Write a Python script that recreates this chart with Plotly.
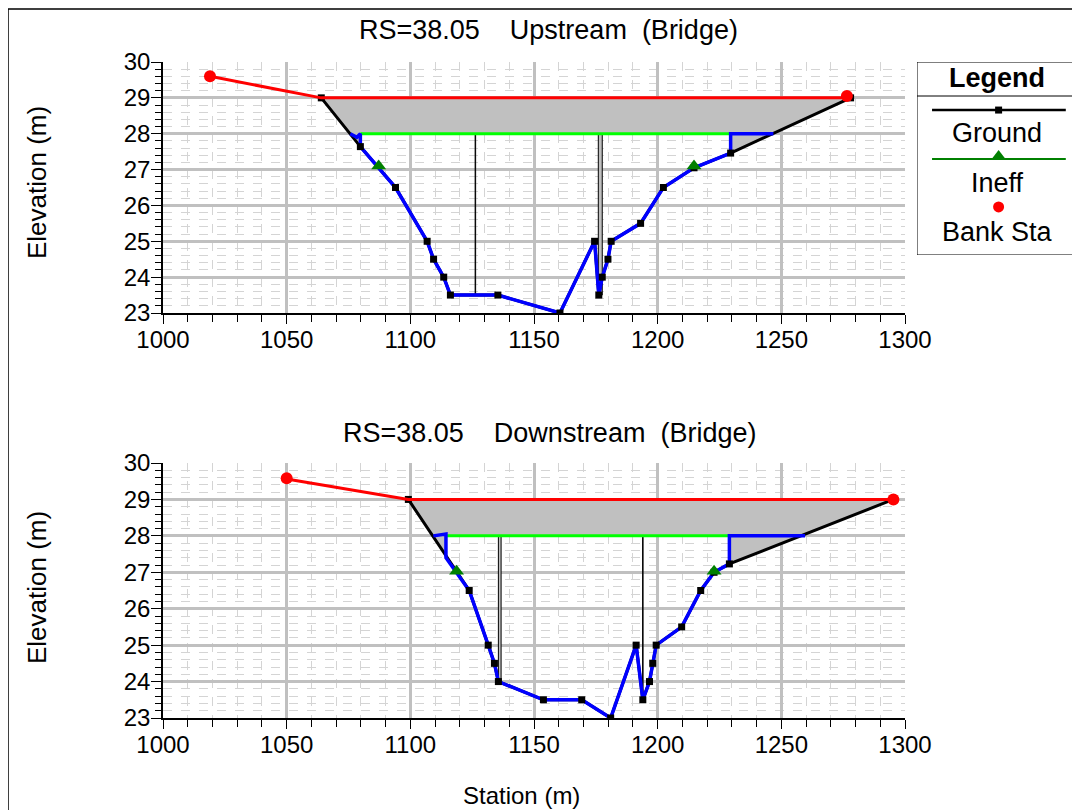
import plotly.graph_objects as go

# ---------------- data ----------------
# Upstream (Bridge) section
us_ground_sta = [1064.0, 1079.8, 1094.0, 1106.8, 1109.4, 1113.5, 1116.2, 1135.4, 1160.5, 1174.5, 1176.2,
                 1177.6, 1179.9, 1181.2, 1193.1, 1202.3, 1214.7, 1229.5, 1278.0]
us_ground_elev = [29.0, 27.64, 26.5, 25.0, 24.5, 24.0, 23.5, 23.5, 23.0, 25.0, 23.5,
                  24.0, 24.5, 25.0, 25.5, 26.5, 27.05, 27.46, 29.0]
us_bridge_sta = [1075.7, 1078.4, 1079.8, 1079.8, 1094.0, 1106.8, 1109.4, 1113.5, 1116.2, 1135.4, 1160.5,
                 1174.5, 1176.2, 1177.6, 1179.9, 1181.2, 1193.1, 1202.3, 1214.7, 1229.5, 1229.5, 1246.8]
us_bridge_elev = [28.0, 27.9, 28.0, 27.64, 26.5, 25.0, 24.5, 24.0, 23.5, 23.5, 23.0,
                  25.0, 23.5, 24.0, 24.5, 25.0, 25.5, 26.5, 27.05, 27.46, 28.0, 28.0]
us_deck_sta = [1019.0, 1064.0, 1277.0]
us_deck_elev = [29.6, 29.0, 29.0]
us_fill_sta = [1064.0, 1079.8, 1079.8, 1229.5, 1229.5, 1278.0]
us_fill_elev = [29.0, 27.64, 28.0, 28.0, 27.46, 29.0]
us_ineff_line_sta = [1079.8, 1229.5]
us_ineff_sta = [1087.2, 1214.7]
us_ineff_elev = [27.1, 27.1]
us_bank_sta = [1019.0, 1276.5]
us_bank_elev = [29.6, 29.05]
us_pier_left = [1126.2, 1176.0]
us_pier_right = [1126.4, 1177.6]
us_pier_bottom = [23.5, 23.5]

# Downstream (Bridge) section
ds_ground_sta = [1099.2, 1123.8, 1131.5, 1134.0, 1135.6, 1153.8, 1169.3, 1181.0, 1191.3, 1194.0,
                 1196.7, 1198.0, 1199.4, 1209.7, 1217.4, 1222.8, 1229.0, 1295.3]
ds_ground_elev = [29.0, 26.5, 25.0, 24.5, 24.0, 23.5, 23.5, 23.0, 25.0, 23.5,
                  24.0, 24.5, 25.0, 25.5, 26.5, 27.0, 27.23, 29.0]
ds_bridge_sta = [1109.3, 1114.4, 1114.4, 1123.8, 1131.5, 1134.0, 1135.6, 1153.8, 1169.3, 1181.0, 1191.3,
                 1194.0, 1196.7, 1198.0, 1199.4, 1209.7, 1217.4, 1222.8, 1229.0, 1229.0, 1259.6]
ds_bridge_elev = [28.0, 28.05, 27.4, 26.5, 25.0, 24.5, 24.0, 23.5, 23.5, 23.0, 25.0,
                  23.5, 24.0, 24.5, 25.0, 25.5, 26.5, 27.0, 27.23, 28.0, 28.0]
ds_deck_sta = [1050.0, 1099.2, 1295.3]
ds_deck_elev = [29.56, 29.0, 29.0]
ds_fill_sta = [1099.2, 1114.4, 1114.4, 1229.0, 1229.0, 1295.3]
ds_fill_elev = [29.0, 27.4, 28.0, 28.0, 27.23, 29.0]
ds_ineff_line_sta = [1114.4, 1229.0]
ds_ineff_sta = [1118.7, 1222.8]
ds_ineff_elev = [27.03, 27.03]
ds_bank_sta = [1050.0, 1295.3]
ds_bank_elev = [29.58, 29.0]
ds_pier_left = [1135.6, 1193.9]
ds_pier_right = [1136.7, 1194.1]
ds_pier_bottom = [24.0, 23.5]

low_chord = 28.0

titles = ["RS=38.05    Upstream  (Bridge)", "RS=38.05    Downstream  (Bridge)"]
legend_labels = ["Ground", "Ineff", "Bank Sta"]

# ---------------- styling ----------------
FONT = "Liberation Sans, Arial, sans-serif"
OFF = 8                      # page body margin
W, H = 1080 - OFF, 810 - OFF
def px(x):
    return (x - OFF) / W
def py(y):
    return 1 - (y - OFF) / H

fig = go.Figure()

def add_section(xa, ya, ground_sta, ground_elev, bridge_sta, bridge_elev, deck_sta, deck_elev,
                fill_sta, fill_elev, ineff_line_sta, ineff_sta, ineff_elev, bank_sta, bank_elev,
                pier_left, pier_right, pier_bottom):
    kw = dict(xaxis=xa, yaxis=ya, showlegend=False, hoverinfo="skip")
    fig.add_trace(go.Scatter(x=fill_sta + [fill_sta[0]], y=fill_elev + [fill_elev[0]], mode="lines",
                             fill="toself", fillcolor="#C0C0C0", line=dict(width=0, color="#C0C0C0"), **kw))
    for l, r, b in zip(pier_left, pier_right, pier_bottom):
        fig.add_trace(go.Scatter(x=[l, r, r, l, l], y=[low_chord, low_chord, b, b, low_chord], mode="lines",
                                 fill="toself", fillcolor="#C0C0C0", line=dict(width=1, color="black"), **kw))
    fig.add_trace(go.Scatter(x=ineff_line_sta, y=[low_chord] * len(ineff_line_sta), mode="lines",
                             line=dict(color="#00FF00", width=3), **kw))
    fig.add_trace(go.Scatter(x=ground_sta, y=ground_elev, mode="lines",
                             line=dict(color="black", width=3), **kw))
    fig.add_trace(go.Scatter(x=bridge_sta, y=bridge_elev, mode="lines",
                             line=dict(color="#0000FF", width=3.5), **kw))
    fig.add_trace(go.Scatter(x=ground_sta, y=ground_elev, mode="markers",
                             marker=dict(symbol="square", size=7, color="black"), **kw))
    fig.add_trace(go.Scatter(x=deck_sta, y=deck_elev, mode="lines",
                             line=dict(color="#FF0000", width=3), **kw))
    fig.add_trace(go.Scatter(x=ineff_sta, y=ineff_elev, mode="markers",
                             marker=dict(symbol="triangle-up", size=13, color="#008000"), **kw))
    fig.add_trace(go.Scatter(x=bank_sta, y=bank_elev, mode="markers",
                             marker=dict(symbol="circle", size=12, color="#FF0000"), **kw))

add_section("x", "y", us_ground_sta, us_ground_elev, us_bridge_sta, us_bridge_elev, us_deck_sta, us_deck_elev,
            us_fill_sta, us_fill_elev, us_ineff_line_sta, us_ineff_sta, us_ineff_elev, us_bank_sta, us_bank_elev,
            us_pier_left, us_pier_right, us_pier_bottom)
add_section("x2", "y2", ds_ground_sta, ds_ground_elev, ds_bridge_sta, ds_bridge_elev, ds_deck_sta, ds_deck_elev,
            ds_fill_sta, ds_fill_elev, ds_ineff_line_sta, ds_ineff_sta, ds_ineff_elev, ds_bank_sta, ds_bank_elev,
            ds_pier_left, ds_pier_right, ds_pier_bottom)

# legend samples in their own invisible axes (box coordinates 0..1)
lkw = dict(xaxis="x3", yaxis="y3", showlegend=False, hoverinfo="skip")
fig.add_trace(go.Scatter(x=[0.094, 0.93], y=[0.751, 0.751], mode="lines", line=dict(color="black", width=2.5), **lkw))
fig.add_trace(go.Scatter(x=[0.51], y=[0.751], mode="markers", marker=dict(symbol="square", size=7, color="black"), **lkw))
fig.add_trace(go.Scatter(x=[0.094, 0.93], y=[0.497, 0.497], mode="lines", line=dict(color="#008000", width=2), **lkw))
fig.add_trace(go.Scatter(x=[0.51], y=[0.51], mode="markers", marker=dict(symbol="triangle-up", size=13, color="#008000"), **lkw))
fig.add_trace(go.Scatter(x=[0.51], y=[0.249], mode="markers", marker=dict(symbol="circle", size=11, color="#FF0000"), **lkw))

def xaxis_cfg(anchor):
    return dict(domain=[px(163), px(905)], anchor=anchor, range=[1000, 1300], tick0=1000, dtick=50,
                automargin=False, ticklabelstandoff=-5,
                ticks="outside", ticklen=9, tickwidth=1, tickcolor="black",
                showline=True, linecolor="black", linewidth=1.5,
                showgrid=True, gridcolor="#C0C0C0", gridwidth=3, zeroline=False,
                tickfont=dict(family=FONT, size=24, color="black"),
                minor=dict(dtick=10, ticks="outside", ticklen=7, tickcolor="black", showgrid=True,
                           gridcolor="#D4D4D4", griddash="dash", gridwidth=1))

def yaxis_cfg(anchor, dom):
    return dict(domain=dom, anchor=anchor, range=[23, 30], tick0=23, dtick=1,
                automargin=False, ticklabelstandoff=-4,
                ticks="outside", ticklen=10, tickwidth=1, tickcolor="black",
                showline=True, linecolor="black", linewidth=1.5,
                showgrid=True, gridcolor="#C0C0C0", gridwidth=3, zeroline=False,
                tickfont=dict(family=FONT, size=24, color="black"),
                minor=dict(dtick=0.2, ticks="outside", ticklen=6, tickcolor="black", showgrid=True,
                           gridcolor="#D4D4D4", griddash="dash", gridwidth=1))

annotations = [
    dict(text=titles[0], x=px(548), y=py(30), xref="paper", yref="paper", showarrow=False,
         font=dict(family=FONT, size=27, color="black"), xanchor="center", yanchor="middle"),
    dict(text=titles[1], x=px(549), y=py(433), xref="paper", yref="paper", showarrow=False,
         font=dict(family=FONT, size=27, color="black"), xanchor="center", yanchor="middle"),
    dict(text="Elevation (m)", x=px(37), y=py(183), xref="paper", yref="paper", showarrow=False, textangle=-90,
         font=dict(family=FONT, size=26, color="black"), xanchor="center", yanchor="middle"),
    dict(text="Elevation (m)", x=px(37), y=py(588), xref="paper", yref="paper", showarrow=False, textangle=-90,
         font=dict(family=FONT, size=26, color="black"), xanchor="center", yanchor="middle"),
    dict(text="Station (m)", x=px(521), y=py(795), xref="paper", yref="paper", showarrow=False,
         font=dict(family=FONT, size=24, color="black"), xanchor="center", yanchor="middle"),
    dict(text="<b>Legend</b>", x=0.5, y=(255 - 78) / 193, xref="x3", yref="y3", showarrow=False,
         font=dict(family=FONT, size=27, color="black"), xanchor="center", yanchor="middle"),
]
for lab, ypix in zip(legend_labels, [133, 183, 232]):
    annotations.append(dict(text=lab, x=0.5, y=(255 - ypix) / 193, xref="x3", yref="y3", showarrow=False,
                            font=dict(family=FONT, size=27, color="black"), xanchor="center", yanchor="middle"))

shapes = [
    dict(type="rect", xref="paper", yref="paper", x0=px(8), x1=1.05, y0=-0.05, y1=py(9),
         line=dict(color="black", width=1.5), fillcolor="rgba(0,0,0,0)", layer="below"),
    dict(type="rect", xref="x3", yref="y3", x0=0, x1=1, y0=0, y1=1, line=dict(color="black", width=1)),
    dict(type="line", xref="x3", yref="y3", x0=0, x1=1, y0=(255 - 96) / 193, y1=(255 - 96) / 193,
         line=dict(color="black", width=1)),
]

fig.update_layout(
    width=W, height=H, margin=dict(l=0, r=0, t=0, b=0, autoexpand=False),
    paper_bgcolor="white", plot_bgcolor="white",
    showlegend=False,
    xaxis=xaxis_cfg("y"), yaxis=yaxis_cfg("x", [py(313), py(62)]),
    xaxis2=xaxis_cfg("y2"), yaxis2=yaxis_cfg("x2", [py(718), py(463)]),
    xaxis3=dict(domain=[px(917), px(1077)], anchor="y3", range=[0, 1], visible=False, fixedrange=True),
    yaxis3=dict(domain=[py(255), py(62)], anchor="x3", range=[0, 1], visible=False, fixedrange=True),
    annotations=annotations, shapes=shapes,
    font=dict(family=FONT, color="black"),
)

fig.write_html("out.html")
